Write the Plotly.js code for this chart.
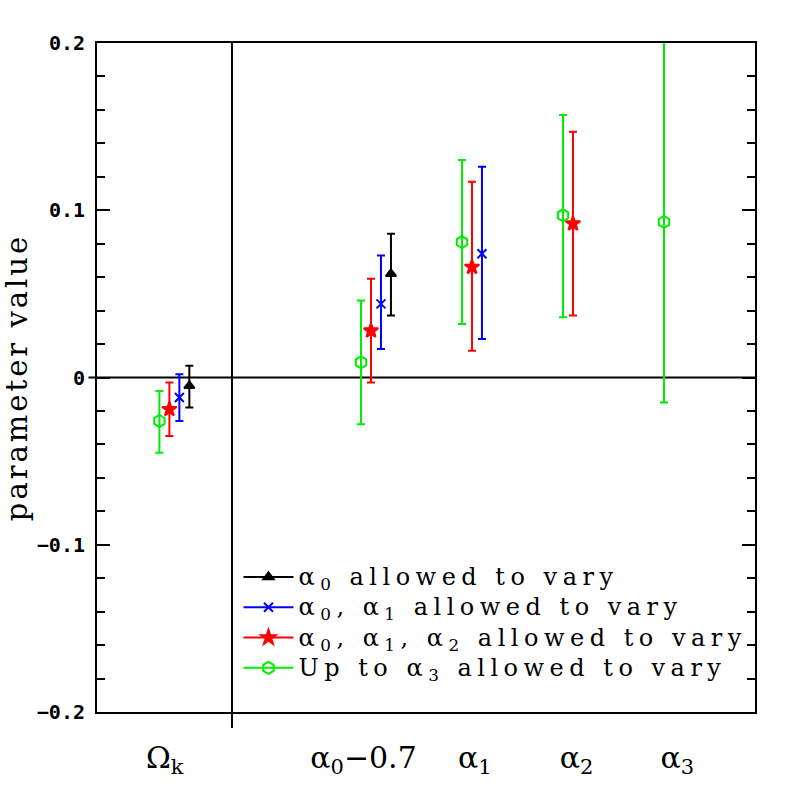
<!DOCTYPE html>
<html>
<head>
<meta charset="utf-8">
<script src="https://cdn.plot.ly/plotly-3.0.1.min.js"></script>
<style>
  html, body { margin: 0; padding: 0; background: #fff; }
  #chart { width: 797px; height: 797px; }
  .legendtext { letter-spacing: 5.5px; font-size: 24px !important; }
  .g-ytitle text { letter-spacing: 3px; }
</style>
</head>
<body>
<div id="chart"></div>
<script>
// ---- categories (x positions of each parameter column) ----
const PARAM_CENTERS = [0.9, 3, 4, 5, 6];
const PARAM_LABELS  = ['Ω<sub>k</sub>', 'α<sub>0</sub>−0.7', 'α<sub>1</sub>', 'α<sub>2</sub>', 'α<sub>3</sub>'];
const LABEL_POS     = [0.80, 2.87, 4.03, 5.09, 6.14];
const DIVIDER_X     = 1.5;
const SPREAD        = 0.104;   // horizontal offset between fits inside a column

// ---- fits: best value, lower and upper end of the error bar ----
// order of columns: Ωk, α0-0.7, α1, α2, α3
const fitA0_val  = [-0.005, 0.062];
const fitA0_lo   = [-0.018, 0.037];
const fitA0_hi   = [ 0.007, 0.086];

const fitA1_val  = [-0.012, 0.044, 0.074];
const fitA1_lo   = [-0.026, 0.017, 0.023];
const fitA1_hi   = [ 0.002, 0.073, 0.126];

const fitA2_val  = [-0.019, 0.028, 0.066, 0.092];
const fitA2_lo   = [-0.035, -0.003, 0.016, 0.037];
const fitA2_hi   = [-0.003, 0.059, 0.117, 0.147];

const fitA3_val  = [-0.026, 0.009, 0.081, 0.097, 0.093];
const fitA3_lo   = [-0.045, -0.028, 0.032, 0.036, -0.015];
const fitA3_hi   = [-0.008, 0.046, 0.130, 0.157, 0.201];

// slot = place from the left inside a column (green is always leftmost)
const FITS = [
  { name: 'α<sub>0</sub> allowed to vary', color: '#000000', symbol: 'triangle-up', size: 9, val: fitA0_val, lo: fitA0_lo, hi: fitA0_hi, slot: 3 },
  { name: 'α<sub>0</sub>, α<sub>1</sub> allowed to vary', color: '#0000ff', symbol: 'x-thin-open', size: 9, val: fitA1_val, lo: fitA1_lo, hi: fitA1_hi, slot: 2 },
  { name: 'α<sub>0</sub>, α<sub>1</sub>, α<sub>2</sub> allowed to vary', color: '#ff0000', symbol: 'star', size: 11, val: fitA2_val, lo: fitA2_lo, hi: fitA2_hi, slot: 1 },
  { name: 'Up to α<sub>3</sub> allowed to vary', color: '#00ee00', symbol: 'hexagon-open', size: 12, val: fitA3_val, lo: fitA3_lo, hi: fitA3_hi, slot: 0 }
];

// number of fits present in each column (to centre the group)
const nInColumn = PARAM_CENTERS.map((_, i) => FITS.filter(f => f.val.length > i).length);

// points separated by nulls so the legend can show a line without joining markers
const traces = FITS.map(f => {
  const x = [], y = [], ep = [], em = [];
  f.val.forEach((v, i) => {
    const n = nInColumn[i];
    x.push(PARAM_CENTERS[i] + (f.slot - (n - 1) / 2) * SPREAD, null);
    y.push(v, null);
    ep.push(f.hi[i] - v, null);
    em.push(v - f.lo[i], null);
  });
  return {
    x, y, name: f.name, type: 'scatter', mode: 'lines+markers',
    connectgaps: false,
    line: { color: f.color, width: 2 },
    marker: { color: f.color, symbol: f.symbol, size: f.size, line: { color: f.color, width: 2 } },
    error_y: { type: 'data', symmetric: false, array: ep, arrayminus: em, color: f.color, thickness: 2, width: 4 },
    hoverinfo: 'skip'
  };
});

const layout = {
  width: 797, height: 797,
  margin: { l: 97, r: 42, t: 43, b: 85 },
  paper_bgcolor: '#fff', plot_bgcolor: '#fff',
  showlegend: true,
  legend: {
    x: 0.215, y: 0.232, xanchor: 'left', yanchor: 'top',
    bgcolor: 'rgba(0,0,0,0)',
    font: { family: 'DejaVu Serif', size: 21, color: '#000' },
    itemwidth: 50,
    tracegroupgap: 0
  },
  xaxis: {
    range: [0.094, 6.948],
    showgrid: false, zeroline: false,
    showline: true, linecolor: '#000', linewidth: 2, mirror: true,
    ticks: '',
    tickmode: 'array', tickvals: LABEL_POS, ticktext: PARAM_LABELS,
    tickfont: { family: 'DejaVu Serif', size: 30, color: '#000' },
    ticklabelstandoff: 18
  },
  yaxis: {
    range: [-0.2, 0.2],
    showgrid: false, zeroline: false,
    showline: true, linecolor: '#000', linewidth: 2, mirror: 'ticks',
    ticks: 'inside', ticklen: 13, tickwidth: 2, tickcolor: '#000',
    dtick: 0.1, tick0: 0,
    minor: { dtick: 0.02, ticks: 'inside', ticklen: 8, tickwidth: 2, tickcolor: '#000' },
    tickfont: { family: 'DejaVu Sans Mono', size: 20, weight: 'bold', color: '#000' },
    ticklabelstandoff: 6,
    title: { text: 'parameter value\u00a0', font: { family: 'DejaVu Serif', size: 29, color: '#000' }, standoff: 3 }
  },
  shapes: [
    { type: 'line', xref: 'paper', yref: 'y', x0: -0.013, x1: 1, y0: 0, y1: 0, line: { color: '#000', width: 2 }, layer: 'below' },
    { type: 'line', xref: 'x', yref: 'paper', x0: DIVIDER_X, x1: DIVIDER_X, y0: -0.024, y1: 1, line: { color: '#000', width: 2 }, layer: 'below' }
  ]
};

Plotly.newPlot('chart', traces, layout, { displayModeBar: false, staticPlot: true });
</script>
</body>
</html>
